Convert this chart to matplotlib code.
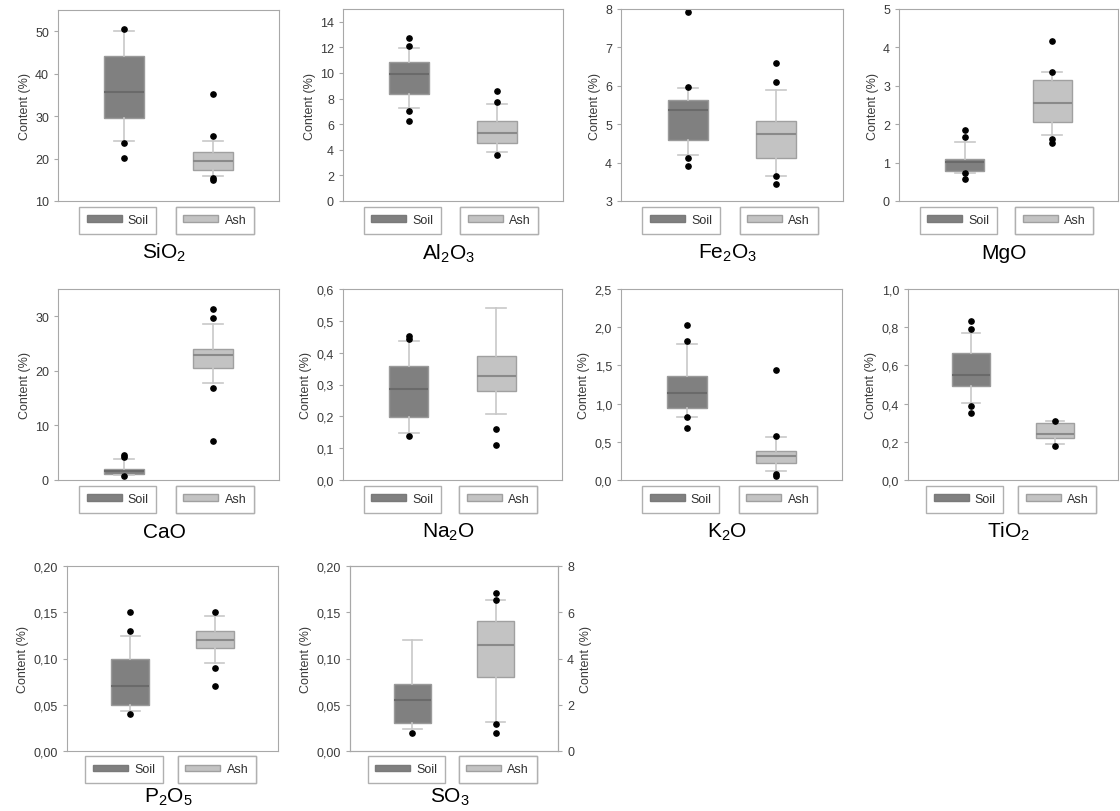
import matplotlib
matplotlib.use('Agg')
import matplotlib.pyplot as plt
import matplotlib.patches as mpatches

plt.rcParams['font.family'] = ['Liberation Sans', 'DejaVu Sans']
plt.rcParams['mathtext.default'] = 'regular'

# (q1, median, q3, whisker low, whisker high, outliers)
titles = ['SiO$_2$', 'Al$_2$O$_3$', 'Fe$_2$O$_3$', 'MgO',
          'CaO', 'Na$_2$O', 'K$_2$O', 'TiO$_2$',
          'P$_2$O$_5$', 'SO$_3$']

soil_stats = [
    (29.5, 35.6, 44.2, 24.2, 50.0, [50.5, 23.7, 20.1]),
    (8.35, 9.95, 10.85, 7.3, 11.95, [12.7, 12.1, 7.0, 6.25]),
    (4.59, 5.36, 5.63, 4.2, 5.93, [7.93, 5.97, 4.12, 3.92]),
    (0.78, 1.02, 1.10, 0.73, 1.54, [1.85, 1.66, 0.73, 0.56]),
    (1.1, 1.64, 2.06, 0.85, 3.9, [4.6, 4.2, 0.7]),
    (0.199, 0.287, 0.359, 0.147, 0.438, [0.451, 0.442, 0.139]),
    (0.943, 1.137, 1.367, 0.824, 1.78, [2.03, 1.82, 0.82, 0.68]),
    (0.49, 0.552, 0.667, 0.405, 0.771, [0.83, 0.79, 0.386, 0.349]),
    (0.05, 0.07, 0.10, 0.043, 0.124, [0.15, 0.13, 0.04]),
    (0.03, 0.055, 0.072, 0.0233, 0.12, [0.02]),
]

ash_stats = [
    (17.3, 19.5, 21.6, 15.8, 24.2, [35.3, 25.2, 15.5, 15.0]),
    (4.5, 5.3, 6.25, 3.85, 7.55, [8.6, 7.7, 3.6]),
    (4.13, 4.75, 5.08, 3.66, 5.89, [6.59, 6.11, 3.64, 3.45]),
    (2.07, 2.56, 3.14, 1.73, 3.36, [4.17, 3.37, 1.62, 1.5]),
    (20.6, 22.95, 24.0, 17.7, 28.6, [31.3, 29.7, 16.9, 7.2]),
    (0.281, 0.327, 0.388, 0.208, 0.541, [0.16, 0.11]),
    (0.216, 0.313, 0.38, 0.119, 0.569, [1.44, 0.58, 0.084, 0.05]),
    (0.222, 0.243, 0.298, 0.187, 0.307, [0.31, 0.18]),
    (0.111, 0.12, 0.13, 0.0955, 0.146, [0.15, 0.09, 0.07]),
    (3.2, 4.57, 5.64, 1.25, 6.53, [6.84, 6.55, 1.15, 0.79]),  # right axis
]

ylims = [(10, 55), (0, 15), (3, 8), (0, 5), (0, 35), (0, 0.6), (0, 2.5),
         (0, 1.0), (0, 0.2), (0, 0.2)]
yticks = [[10, 20, 30, 40, 50], [0, 2, 4, 6, 8, 10, 12, 14], [3, 4, 5, 6, 7, 8],
          [0, 1, 2, 3, 4, 5], [0, 10, 20, 30], [0, 0.1, 0.2, 0.3, 0.4, 0.5, 0.6],
          [0, 0.5, 1.0, 1.5, 2.0, 2.5], [0, 0.2, 0.4, 0.6, 0.8, 1.0],
          [0, 0.05, 0.10, 0.15, 0.20], [0, 0.05, 0.10, 0.15, 0.20]]
decimals = [0, 0, 0, 0, 0, 1, 1, 1, 2, 2]
so3_right_lim = (0, 8)
so3_right_ticks = [0, 2, 4, 6, 8]

# axes boxes in pixels: left, right, top, bottom
boxes_px = [
    (58, 279, 11, 202), (343, 563, 10, 202), (621, 843, 10, 202), (899, 1118, 10, 202),
    (58, 279, 290, 481), (343, 562, 290, 481), (621, 842, 290, 481), (908, 1118, 290, 481),
    (67, 278, 567, 752), (350, 558, 567, 752),
]

W, H = 1120, 812
soil_color = '#808080'
ash_color = '#c3c3c3'
spine_color = '#a8a8a8'
text_color = '#3a3a3a'
fs = 9


def make_stats(s):
    q1, med, q3, lo, hi, fl = s
    return dict(q1=q1, med=med, q3=q3, whislo=lo, whishi=hi, fliers=fl)


def draw_box(ax, s, pos, face, edge, medc):
    ax.bxp([make_stats(s)], positions=[pos], widths=0.45, patch_artist=True,
           showfliers=True,
           boxprops=dict(facecolor=face, edgecolor=edge, linewidth=1),
           medianprops=dict(color=medc, linewidth=1.5),
           whiskerprops=dict(color='#c8c8c8', linewidth=1.2),
           capprops=dict(color='#c8c8c8', linewidth=1.2),
           flierprops=dict(marker='o', markerfacecolor='black',
                           markeredgecolor='black', markersize=3.8))


def fmt(v, d):
    return ('{:.%df}' % d).format(v).replace('.', ',')


fig = plt.figure(figsize=(11.2, 8.12), dpi=100)

for i in range(len(titles)):
    l, r, t, b = boxes_px[i]
    ax = fig.add_axes([l / W, 1 - b / H, (r - l) / W, (b - t) / H])
    draw_box(ax, soil_stats[i], 1, soil_color, '#9a9a9a', '#6a6a6a')
    if i == 9:
        ax2 = ax.twinx()
        draw_box(ax2, ash_stats[i], 2, ash_color, '#a0a0a0', '#8a8a8a')
        ax2.set_ylim(*so3_right_lim)
        ax2.set_yticks(so3_right_ticks)
        ax2.set_yticklabels([str(v) for v in so3_right_ticks])
        ax2.set_ylabel('Content (%)', fontsize=fs, color=text_color)
        ax2.tick_params(axis='y', labelsize=fs, colors=text_color, length=3,
                        color=spine_color)
        ax2.set_xlim(0.25, 2.75)
        ax2.set_xticks([])
        for sp in ax2.spines.values():
            sp.set_color(spine_color)
    else:
        draw_box(ax, ash_stats[i], 2, ash_color, '#a0a0a0', '#8a8a8a')
    ax.set_xlim(0.25, 2.75)
    ax.set_xticks([])
    ax.set_ylim(*ylims[i])
    ax.set_yticks(yticks[i])
    ax.set_yticklabels([fmt(v, decimals[i]) for v in yticks[i]])
    ax.tick_params(axis='y', labelsize=fs, colors=text_color, length=3,
                   color=spine_color)
    ax.set_ylabel('Content (%)', fontsize=fs, color=text_color, labelpad=3)
    for sp in ax.spines.values():
        sp.set_color(spine_color)

    for name, col, ec, xpos in [('Soil', soil_color, '#7a7a7a', 0.27),
                                ('Ash', ash_color, '#a0a0a0', 0.71)]:
        h = mpatches.Patch(facecolor=col, edgecolor=ec, label=name)
        leg = ax.legend(handles=[h], loc='center', bbox_to_anchor=(xpos, -0.1),
                        fontsize=fs, fancybox=False, framealpha=1,
                        edgecolor='#b0b0b0', handlelength=2.8,
                        handleheight=0.45, borderpad=0.6, handletextpad=0.5,
                        borderaxespad=0)
        leg.get_frame().set_linewidth(1)
        for tx in leg.get_texts():
            tx.set_color('#303030')
        ax.add_artist(leg)

    ty = -0.268 if i < 8 else -0.245
    ax.text(0.48, ty, titles[i], transform=ax.transAxes, ha='center',
            va='center', fontsize=15, color='black')

fig.savefig('out.png', dpi=100)
